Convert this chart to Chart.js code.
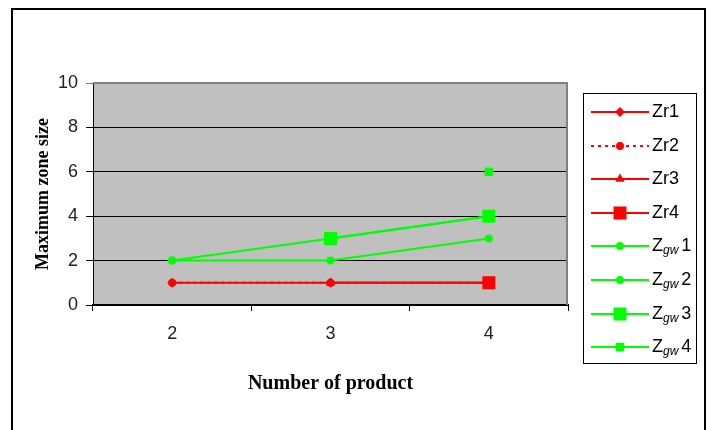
<!DOCTYPE html>
<html>
<head>
<meta charset="utf-8">
<script src="https://cdn.jsdelivr.net/npm/chart.js@4/dist/chart.umd.min.js"></script>
<style>
  html, body { margin: 0; padding: 0; background: #fff; }
  #wrap { position: relative; width: 712px; height: 430px; }
  canvas { display: block; }
</style>
</head>
<body>
<div id="wrap"><canvas id="c" width="712" height="430"></canvas></div>
<script>
// Number of products on the x axis
const products = ['2', '3', '4'];
const yTicks = [0, 2, 4, 6, 8, 10];

// Maximum zone size per series (null = not defined for that product count)
const zr1 = [1, 1, 1];
const zr2 = [1, 1, 1];
const zr3 = [null, 1, 1];
const zr4 = [null, null, 1];
const zgw1 = [2, 2, 3];
const zgw2 = [2, 3, 4];
const zgw3 = [null, 3, 4];
const zgw4 = [null, null, 6];

const RED = '#FF0000';
const GREEN = '#00FF00';

const seriesDefs = [
  { label: 'Zr1', sub: null, num: null, data: zr1, color: RED, style: 'rectRot', r: 5, dash: [] },
  { label: 'Zr2', sub: null, num: null, data: zr2, color: RED, style: 'circle', r: 4, dash: [3, 4] },
  { label: 'Zr3', sub: null, num: null, data: zr3, color: RED, style: 'triangle', r: 5.5, dash: [] },
  { label: 'Zr4', sub: null, num: null, data: zr4, color: RED, style: 'rect', r: 9.2, dash: [] },
  { label: 'Zgw1', sub: 'gw', num: '1', data: zgw1, color: GREEN, style: 'circle', r: 4, dash: [] },
  { label: 'Zgw2', sub: 'gw', num: '2', data: zgw2, color: GREEN, style: 'circle', r: 4, dash: [] },
  { label: 'Zgw3', sub: 'gw', num: '3', data: zgw3, color: GREEN, style: 'rect', r: 9.2, dash: [] },
  { label: 'Zgw4', sub: 'gw', num: '4', data: zgw4, color: GREEN, style: 'rect', r: 6, dash: [] }
];

const datasets = seriesDefs.map((s, i) => ({
  label: s.label,
  data: s.data,
  borderColor: s.color,
  backgroundColor: s.color,
  borderWidth: 2,
  borderDash: s.dash,
  pointStyle: s.style,
  pointRadius: s.r,
  pointBorderWidth: 0,
  pointBackgroundColor: s.color,
  pointBorderColor: s.color,
  spanGaps: false,
  tension: 0,
  order: seriesDefs.length - i
}));

// Gray plot background, plot frame and outer chart frame
const framePlugin = {
  id: 'frames',
  beforeDraw(chart) {
    const { ctx, chartArea: a } = chart;
    ctx.save();
    ctx.fillStyle = '#FFFFFF';
    ctx.fillRect(0, 0, chart.width, chart.height);
    ctx.fillStyle = '#C0C0C0';
    ctx.fillRect(a.left, a.top, a.right - a.left, a.bottom - a.top);
    // outer border
    ctx.strokeStyle = '#000000';
    ctx.lineWidth = 2;
    ctx.beginPath();
    ctx.moveTo(12, 440);
    ctx.lineTo(12, 9);
    ctx.lineTo(705, 9);
    ctx.lineTo(705, 440);
    ctx.stroke();
    ctx.restore();
  },
  beforeDatasetsDraw(chart) {
    const { ctx, chartArea: a } = chart;
    ctx.save();
    ctx.strokeStyle = '#808080';
    ctx.lineWidth = 2;
    ctx.beginPath();
    ctx.moveTo(a.left, a.top);
    ctx.lineTo(a.right - 1, a.top);
    ctx.lineTo(a.right - 1, a.bottom);
    ctx.stroke();
    ctx.restore();
  }
};

// Boxed legend on the right with subscripted labels
const legendPlugin = {
  id: 'boxLegend',
  afterDraw(chart) {
    const { ctx } = chart;
    const bx = 583, by = 93, bw = 113, bh = 270;
    ctx.save();
    ctx.fillStyle = '#FFFFFF';
    ctx.fillRect(bx, by, bw, bh);
    ctx.strokeStyle = '#000000';
    ctx.lineWidth = 1;
    ctx.strokeRect(bx + 0.5, by + 0.5, bw, bh);
    const rowY0 = 112, rowGap = 33.6;
    const font = '18px "Liberation Sans", Arial, sans-serif';
    seriesDefs.forEach((s, i) => {
      const y = Math.round(rowY0 + i * rowGap);
      ctx.strokeStyle = s.color;
      ctx.lineWidth = 2;
      ctx.setLineDash(s.dash);
      ctx.beginPath();
      ctx.moveTo(591, y);
      ctx.lineTo(649, y);
      ctx.stroke();
      ctx.setLineDash([]);
      ctx.fillStyle = s.color;
      ctx.strokeStyle = s.color;
      Chart.helpers.drawPoint(ctx, {
        pointStyle: s.style, radius: s.r, rotation: 0, borderWidth: 0
      }, 620, y);
      ctx.fillStyle = '#000000';
      ctx.textBaseline = 'middle';
      ctx.textAlign = 'left';
      if (s.sub) {
        ctx.font = font;
        ctx.fillText('Z', 652, y);
        const zw = ctx.measureText('Z').width;
        ctx.font = 'italic 12px "Liberation Sans", Arial, sans-serif';
        ctx.fillText(s.sub, 652 + zw, y + 5);
        const sw = ctx.measureText(s.sub).width;
        ctx.font = font;
        ctx.fillText(s.num, 652 + zw + sw + 3, y);
      } else {
        ctx.font = font;
        ctx.fillText(s.label, 652, y);
      }
    });
    ctx.restore();
  }
};

new Chart(document.getElementById('c'), {
  type: 'line',
  data: { labels: products, datasets },
  plugins: [framePlugin, legendPlugin],
  options: {
    responsive: false,
    animation: false,
    devicePixelRatio: 1,
    layout: { padding: { left: 0, right: 144, top: 83, bottom: 0 } },
    plugins: {
      legend: { display: false },
      tooltip: { enabled: false }
    },
    scales: {
      x: {
        type: 'category',
        offset: true,
        afterFit(scale) { scale.height = 125; },
        grid: {
          offset: true,
          drawOnChartArea: false,
          drawTicks: true,
          tickLength: 6,
          color: '#000000',
          lineWidth: 1
        },
        border: { display: true, color: '#000000', width: 2 },
        ticks: {
          color: '#222222',
          padding: 12,
          font: { family: '"Liberation Sans", Arial, sans-serif', size: 18 }
        },
        title: {
          display: true,
          text: 'Number of product',
          color: '#000000',
          padding: { top: 0, bottom: 34 },
          font: { family: '"Liberation Serif", "Times New Roman", serif', size: 20, weight: 'bold' }
        }
      },
      y: {
        min: 0,
        max: 10,
        afterFit(scale) { scale.width = 93; },
        afterBuildTicks(scale) { scale.ticks = yTicks.map(v => ({ value: v })); },
        grid: {
          color: (c) => (c.tick && c.tick.value === 10 ? '#808080' : '#000000'),
          lineWidth: 1,
          drawTicks: true,
          tickLength: 7,
        },
        border: { display: true, color: '#000000', width: 1 },
        ticks: {
          color: '#222222',
          padding: 8,
          font: { family: '"Liberation Sans", Arial, sans-serif', size: 18 }
        },
        title: {
          display: true,
          text: 'Maximum zone size',
          color: '#000000',
          padding: { top: 33, bottom: 0 },
          font: { family: '"Liberation Serif", "Times New Roman", serif', size: 18, weight: 'bold' }
        }
      }
    }
  }
});
</script>
</body>
</html>
